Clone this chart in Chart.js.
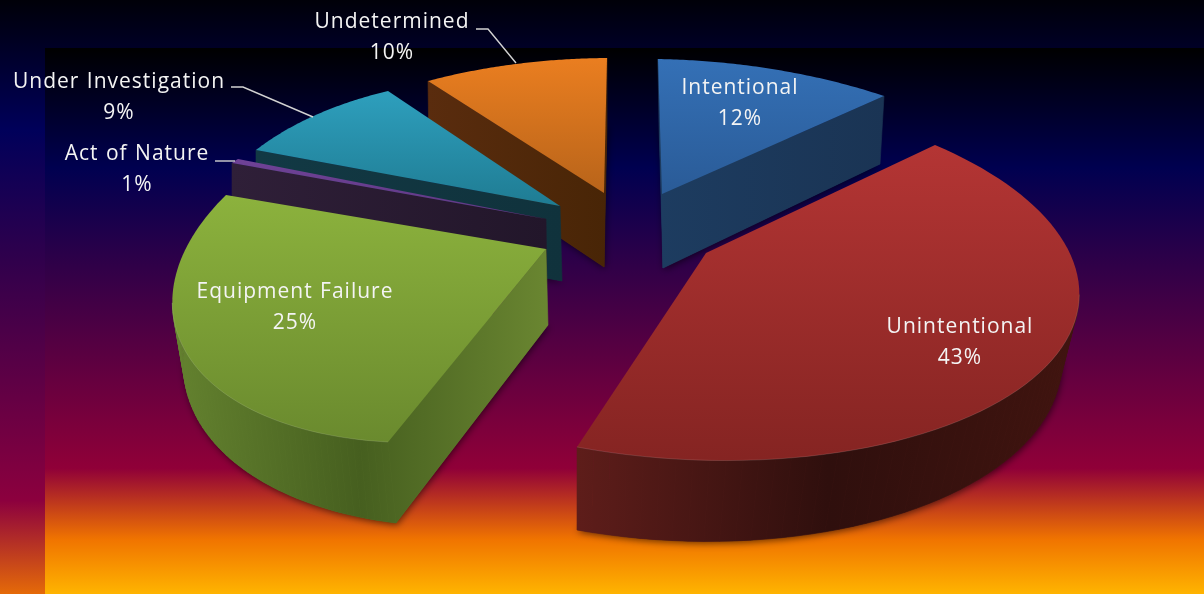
<!DOCTYPE html>
<html>
<head>
    <title>Fire Cause Breakdown</title>
    <style>
        html, body { margin: 0; padding: 0; background: #000; overflow: hidden; }
        canvas { display: block; }
    </style>
    <script src="https://cdn.jsdelivr.net/npm/chart.js"></script>
</head>
<body>
    <canvas id="pieChart" width="1204" height="594"></canvas>
    <script>
        // chart data
        const categories = ['Intentional', 'Unintentional', 'Equipment Failure', 'Act of Nature', 'Under Investigation', 'Undetermined'];
        const shares = [12, 43, 25, 1, 9, 10];

        // face colours, same order as categories
        const topLight = ['#3470b6', '#b43534', '#8cb23d', '#6f4296', '#2e9fbd', '#ea7e20'];
        const topDark = ['#2a5b97', '#852422', '#6a8a2e', '#5f3885', '#1f7c93', '#b8641a'];
        const wallStops = [
            ['#1d3c60', '#1a3454'],
            ['#5e1d1a', '#2f0f0d', '#40140f'],
            ['#64822f', '#465f1f', '#6a8631'],
            ['#2f1f38', '#22162a'],
            ['#123944', '#10323c'],
            ['#5a2c0e', '#482506']
        ];

        // where each slice ends up on screen: centre, first edge, last edge, middle of the rim
        const topFaces = [
            { a: [662, 194], s: [658, 59], e: [884, 96], m: [772, 69] },
            { a: [706, 253], s: [935, 145], e: [577, 447], m: [1052, 360] },
            { a: [546, 249], s: [388, 442], e: [226, 195], m: [191, 360] },
            { a: [546, 219], s: [232, 163], e: [238, 159], m: [234.9, 160.9] },
            { a: [560, 206], s: [256, 150], e: [388, 91], m: [318, 114] },
            { a: [604, 193], s: [428, 81], e: [607, 58], m: [516, 64] }
        ];
        const bottomFaces = [
            { a: [663, 268], s: [659, 125], e: [880, 164], m: [770, 135] },
            { a: [706, 330], s: [935, 215], e: [577, 530], m: [1030, 438] },
            { a: [548, 325], s: [396, 523], e: [228, 265], m: [203, 428] },
            { a: [547, 295], s: [232, 238], e: [238, 234], m: [234.9, 235.9] },
            { a: [562, 281], s: [256, 225], e: [388, 165], m: [318, 188] },
            { a: [604, 267], s: [429, 150], e: [607, 125], m: [516, 132] }
        ];
        const drawOrder = [0, 5, 4, 3, 1, 2];

        const labelSpots = [[740, 87], [960, 326], [295, 291], [137, 153], [119, 81], [392, 21]];
        const leaders = [
            [[476, 29], [488, 29], [516, 63]],
            [[231, 87], [243, 87], [313, 117]],
            [[215, 161], [235, 161]]
        ];

        // solve the 4 point projective map, src and dst are [x, y] lists
        function homography(src, dst) {
            const m = [];
            for (let i = 0; i < 4; i++) {
                const [x, y] = src[i], [u, v] = dst[i];
                m.push([x, y, 1, 0, 0, 0, -x * u, -y * u, u]);
                m.push([0, 0, 0, x, y, 1, -x * v, -y * v, v]);
            }
            for (let c = 0; c < 8; c++) {
                let p = c;
                for (let r = c + 1; r < 8; r++) if (Math.abs(m[r][c]) > Math.abs(m[p][c])) p = r;
                [m[c], m[p]] = [m[p], m[c]];
                for (let r = 0; r < 8; r++) {
                    if (r === c) continue;
                    const f = m[r][c] / m[c][c];
                    for (let k = c; k < 9; k++) m[r][k] -= f * m[c][k];
                }
            }
            const h = m.map((row, i) => row[8] / row[i]);
            return ([x, y]) => {
                const w = h[6] * x + h[7] * y + 1;
                return [(h[0] * x + h[1] * y + h[2]) / w, (h[3] * x + h[4] * y + h[5]) / w];
            };
        }

        const face = f => [f.a, f.s, f.e, f.m];

        function polygon(ctx, pts) {
            ctx.beginPath();
            pts.forEach((p, i) => i ? ctx.lineTo(p[0], p[1]) : ctx.moveTo(p[0], p[1]));
            ctx.closePath();
        }

        function drawSlice(ctx, el, i) {
            // angles come from the arc element chart.js laid out
            const { startAngle, endAngle } = el.getProps(['startAngle', 'endAngle']);
            const unit = a => [Math.cos(a), Math.sin(a)];
            const src = [[0, 0], unit(startAngle), unit(endAngle), unit((startAngle + endAngle) / 2)];
            const toTop = homography(src, face(topFaces[i]));
            const toBottom = homography(src, face(bottomFaces[i]));

            const rim = [[0, 0]];
            const steps = 72;
            for (let k = 0; k <= steps; k++) rim.push(unit(startAngle + (endAngle - startAngle) * k / steps));
            const top = rim.map(toTop), bottom = rim.map(toBottom);

            const xs = top.concat(bottom).map(p => p[0]);
            const ys = top.map(p => p[1]);
            const wall = ctx.createLinearGradient(Math.min(...xs), 0, Math.max(...xs), 0);
            wallStops[i].forEach((c, k, all) => wall.addColorStop(k / (all.length - 1), c));

            // soft shadow under the block
            ctx.save();
            ctx.shadowColor = 'rgba(0,0,0,0.55)';
            ctx.shadowBlur = 7;
            ctx.shadowOffsetX = 1;
            ctx.shadowOffsetY = 2;
            ctx.fillStyle = wallStops[i][0];
            polygon(ctx, bottom);
            ctx.fill();
            ctx.restore();

            // walls, only the ones facing the viewer
            ctx.fillStyle = wall;
            ctx.strokeStyle = wall;
            ctx.lineWidth = 0.6;
            const n = top.length;
            for (let k = 0; k < n; k++) {
                const j = (k + 1) % n;
                if (top[j][0] >= top[k][0]) continue;
                polygon(ctx, [top[k], top[j], bottom[j], bottom[k]]);
                ctx.fill();
                ctx.stroke();
            }

            const grad = ctx.createLinearGradient(0, Math.min(...ys), 0, Math.max(...ys));
            grad.addColorStop(0, topLight[i]);
            grad.addColorStop(1, topDark[i]);
            ctx.fillStyle = grad;
            polygon(ctx, top);
            ctx.fill();

            // thin highlight on the front rim
            ctx.strokeStyle = 'rgba(255,255,255,0.12)';
            ctx.lineWidth = 1;
            for (let k = 1; k < n - 1; k++) {
                if (top[k + 1][0] >= top[k][0]) continue;
                ctx.beginPath();
                ctx.moveTo(top[k][0], top[k][1]);
                ctx.lineTo(top[k + 1][0], top[k + 1][1]);
                ctx.stroke();
            }
        }

        function paintBackground(ctx, w, h) {
            const outer = ctx.createLinearGradient(0, 0, 0, 650);
            outer.addColorStop(0, '#000008');
            outer.addColorStop(0.2, '#00005a');
            outer.addColorStop(0.4, '#30004c');
            outer.addColorStop(0.77, '#8c003e');
            outer.addColorStop(0.914, '#e56a08');
            outer.addColorStop(1, '#ffb400');
            ctx.fillStyle = outer;
            ctx.fillRect(0, 0, w, h);

            const inner = ctx.createLinearGradient(0, 48, 0, h);
            inner.addColorStop(0, '#000000');
            inner.addColorStop(0.22, '#000050');
            inner.addColorStop(0.4, '#300048');
            inner.addColorStop(0.77, '#900038');
            inner.addColorStop(0.9, '#f07400');
            inner.addColorStop(1, '#ffb400');
            ctx.fillStyle = inner;
            ctx.fillRect(45, 48, w - 45, h - 48);
        }

        const piePainter = {
            id: 'piePainter',
            beforeDraw(chart) {
                paintBackground(chart.ctx, chart.width, chart.height);
            },
            beforeDatasetsDraw(chart) {
                const arcs = chart.getDatasetMeta(0).data;
                drawOrder.forEach(i => drawSlice(chart.ctx, arcs[i], i));
                return false;
            },
            afterDraw(chart) {
                const ctx = chart.ctx;
                ctx.save();
                ctx.strokeStyle = '#d2d2d2';
                ctx.lineWidth = 1.4;
                leaders.forEach(line => {
                    ctx.beginPath();
                    line.forEach((p, i) => i ? ctx.lineTo(p[0], p[1]) : ctx.moveTo(p[0], p[1]));
                    ctx.stroke();
                });
                ctx.fillStyle = '#f4f4f4';
                ctx.font = '21px "Open Sans"';
                ctx.letterSpacing = '1px';
                ctx.wordSpacing = '1px';
                ctx.textAlign = 'center';
                ctx.textBaseline = 'middle';
                categories.forEach((name, i) => {
                    const [x, y] = labelSpots[i];
                    ctx.fillText(name, x, y + 1);
                    ctx.fillText(shares[i] + '%', x, y + 32);
                });
                ctx.restore();
            }
        };

        new Chart(document.getElementById('pieChart'), {
            type: 'pie',
            data: {
                labels: categories,
                datasets: [{ data: shares, backgroundColor: topLight, borderWidth: 0 }]
            },
            options: {
                responsive: false,
                animation: false,
                plugins: { legend: { display: false }, tooltip: { enabled: false } }
            },
            plugins: [piePainter]
        });
    </script>
</body>
</html>
